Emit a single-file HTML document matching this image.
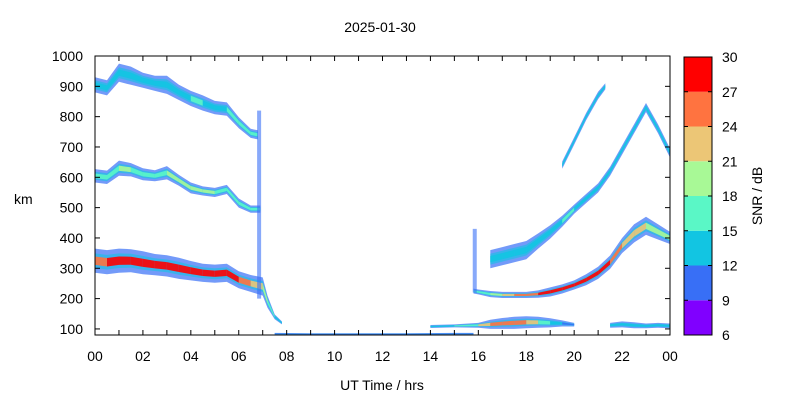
<!DOCTYPE html>
<html><head><meta charset="utf-8"><style>
body{margin:0;background:#fff}
svg{display:block;font-family:"Liberation Sans",Arial,sans-serif}
</style></head><body>
<svg id="chart" width="800" height="400" xmlns="http://www.w3.org/2000/svg">
<rect width="800" height="400" fill="#fff"/>
<text x="380" y="32" font-size="14" text-anchor="middle">2025-01-30</text>
<text x="14" y="204" font-size="14">km</text>
<text x="382" y="390" font-size="14" text-anchor="middle">UT Time / hrs</text>
<text transform="translate(762,196) rotate(-90)" font-size="14" text-anchor="middle">SNR / dB</text>
<g id="marks"></g>
<g id="axes"></g>
</svg>
<script>
// ---- data ----
const xTicks = ["00","02","04","06","08","10","12","14","16","18","20","22","00"];
const yTicks = [100,200,300,400,500,600,700,800,900,1000];
const cbTicks = [6,9,12,15,18,21,24,27,30];
const cbColors = ["#8000ff","#386ff6","#12c5e2","#5af7c6","#a8f996","#ecc676","#ff7340","#ff0000"];

const l1Hours = [0,0.5,1,1.5,2,2.5,3,3.5,4,4.5,5,5.5,6,6.5,7,7.2,7.5,7.8];
const l1Center = [325,320,325,325,318,312,308,300,292,285,282,285,262,250,240,190,140,120];
const l1Spread = [40,40,40,38,38,35,35,35,32,30,30,30,28,28,30,20,8,5];
const l1Snr = [25,26,28,28,28,27,28,28,28,27,28,28,28,25,20,17,15,12];

const l2Hours = [0,0.5,1,1.5,2,2.5,3,3.5,4,4.5,5,5.5,6,6.5,6.9];
const l2Center = [605,600,630,625,610,605,615,590,565,555,550,560,515,495,495];
const l2Spread = [22,22,25,22,20,18,22,18,18,15,15,15,15,12,12];
const l2Snr = [17,17,18,18,17,16,18,18,19,18,18,17,18,17,15];

const l3Hours = [0,0.5,1,1.5,2,2.5,3,3.5,4,4.5,5,5.5,6,6.5,6.8];
const l3Center = [905,895,945,935,920,910,905,880,860,845,830,825,780,745,740];
const l3Spread = [25,25,30,30,25,25,30,25,25,25,22,22,18,15,15];
const l3Snr = [13,13,14,14,13,13,14,14,15,15,14,14,16,17,14];

const eHours = [7.5,9,11,13,15,15.8];
const eCenter = [84,83,83,83,84,84];
const eSpread = [3,3,3,3,3,3];
const eSnr = [10,10,10,10,11,11];

const l4Hours = [15.8,16,16.5,17,17.5,18,18.5,19,19.5,20,20.5,21,21.5,22,22.5,23,23.5,24];
const l4Center = [225,222,215,212,212,212,215,222,232,245,262,285,320,375,415,440,420,400];
const l4Spread = [8,8,10,10,10,10,12,15,15,15,18,20,22,25,30,30,25,20];
const l4Snr = [15,16,18,22,24,25,27,27,28,28,28,28,27,24,22,20,20,19];

const l5Hours = [14,15,16,16.5,17,17.5,18,18.5,19,19.5,20];
const l5Center = [108,110,112,115,118,120,122,122,120,118,114];
const l5Spread = [5,5,8,15,18,20,20,18,15,10,6];
const l5Snr = [12,12,22,24,26,26,25,20,15,12,10];

const l6Hours = [21.5,22,22.5,23,23.5,24];
const l6Center = [112,115,112,110,112,110];
const l6Spread = [8,10,10,8,8,8];
const l6Snr = [13,14,13,13,14,13];

const l7Hours = [16.5,17,17.5,18,18.5,19,19.5,20,20.5,21,21.5,22,22.5,23,23.5,24];
const l7Center = [330,340,350,360,390,420,455,495,530,565,620,690,760,830,760,680];
const l7Spread = [30,30,30,30,25,22,18,15,15,15,15,15,15,15,15,15];
const l7Snr = [12,12,13,13,14,14,15,15,14,14,14,13,13,14,14,13];

const l8Hours = [19.5,20,20.5,21,21.3];
const l8Center = [640,720,800,870,900];
const l8Spread = [12,12,12,12,10];
const l8Snr = [12,13,13,14,12];

// vertical streaks: hour, bottom km, top km
const streakHours = [6.85, 15.85];
const streakBottom = [200, 220];
const streakTop = [820, 430];

// ---- axes ----
const X0=95,X1=670,Y0=335,Y1=56,HMAX=24,KMIN=80,KMAX=1000;
const xs=h=>X0+(h/HMAX)*(X1-X0);
const ys=k=>Y0-(k-KMIN)/(KMAX-KMIN)*(Y0-Y1);
const col=s=>cbColors[Math.max(0,Math.min(7,Math.floor((s-6)/3)))];
const NS="http://www.w3.org/2000/svg";
const marks=document.getElementById('marks');
const axes=document.getElementById('axes');
function mk(tag,attrs,parent){const e=document.createElementNS(NS,tag);for(const k in attrs)e.setAttribute(k,attrs[k]);parent.appendChild(e);return e;}

function band(hours,center,spread,frac,fill,name,op){
  let up=[],lo=[];
  for(let i=0;i<hours.length;i++){
    up.push(xs(hours[i]).toFixed(1)+","+ys(center[i]+spread[i]*frac).toFixed(1));
    lo.unshift(xs(hours[i]).toFixed(1)+","+ys(center[i]-spread[i]*frac).toFixed(1));
  }
  const p=mk('polygon',{points:up.concat(lo).join(" "),fill:fill,'fill-opacity':op},marks);
  
  
}
function layer(hours,center,spread,snr,name){
  band(hours,center,spread,1,cbColors[1],name+'-outer',0.7);
  band(hours,center,spread,0.6,cbColors[2],name+'-mid',0.6);
  for(let i=0;i<hours.length-1;i++){
    const s=(snr[i]+snr[i+1])/2;
    const x0=xs(hours[i]),x1=xs(hours[i+1]);
    const pts=[[x0,ys(center[i]+spread[i]*0.35)],[x1,ys(center[i+1]+spread[i+1]*0.35)],[x1,ys(center[i+1]-spread[i+1]*0.35)],[x0,ys(center[i]-spread[i]*0.35)]];
    const p=mk('polygon',{points:pts.map(q=>q[0].toFixed(1)+","+q[1].toFixed(1)).join(" "),fill:col(s),'fill-opacity':0.9},marks);
    
    
  }
}
layer(l1Hours,l1Center,l1Spread,l1Snr,'f-layer-1hop');
layer(l2Hours,l2Center,l2Spread,l2Snr,'f-layer-2hop');
layer(l3Hours,l3Center,l3Spread,l3Snr,'f-layer-3hop');
layer(eHours,eCenter,eSpread,eSnr,'e-layer');
layer(l4Hours,l4Center,l4Spread,l4Snr,'evening-f-1hop');
layer(l5Hours,l5Center,l5Spread,l5Snr,'evening-e-layer');
layer(l6Hours,l6Center,l6Spread,l6Snr,'late-e-layer');
layer(l7Hours,l7Center,l7Spread,l7Snr,'evening-f-2hop');
layer(l8Hours,l8Center,l8Spread,l8Snr,'evening-f-3hop');
streakHours.forEach((h,i)=>{
  const r=mk('rect',{x:xs(h)-2,y:ys(streakTop[i]),width:4,height:ys(streakBottom[i])-ys(streakTop[i]),fill:cbColors[1],'fill-opacity':0.6},marks);
  
  
});

// frame
const fr=mk('rect',{x:X0,y:Y1,width:X1-X0,height:Y0-Y1,fill:'none',stroke:'#000','stroke-width':1},axes);


for(let h=0;h<=24;h++){
  const x=xs(h);
  mk('line',{x1:x,y1:Y0,x2:x,y2:Y0-5,stroke:'#000'},axes);
  mk('line',{x1:x,y1:Y1,x2:x,y2:Y1+5,stroke:'#000'},axes);
}
xTicks.forEach((t,i)=>{
  const e=mk('text',{x:xs(i*2),y:361,'font-size':14,'text-anchor':'middle'},axes);e.textContent=t;
  
  
});
yTicks.forEach(k=>{
  const y=ys(k);
  mk('line',{x1:X0,y1:y,x2:X0+5,y2:y,stroke:'#000'},axes);
  mk('line',{x1:X1,y1:y,x2:X1-5,y2:y,stroke:'#000'},axes);
  const e=mk('text',{x:X0-12,y:y+5,'font-size':14,'text-anchor':'end'},axes);e.textContent=k;
  
  
});
// colorbar
const CX=684,CW=28,CT=57,CB=335;
const cy=v=>CB-(v-6)/24*(CB-CT);
cbColors.forEach((c,i)=>{
  const r=mk('rect',{x:CX,y:cy(6+3*(i+1)),width:CW,height:cy(6+3*i)-cy(6+3*(i+1)),fill:c},axes);
  
  
});
mk('rect',{x:CX,y:CT,width:CW,height:CB-CT,fill:'none',stroke:'#000'},axes);
cbTicks.forEach(v=>{
  const y=cy(v);
  mk('line',{x1:CX,y1:y,x2:CX+4,y2:y,stroke:'#000'},axes);
  mk('line',{x1:CX+CW,y1:y,x2:CX+CW-4,y2:y,stroke:'#000'},axes);
  const e=mk('text',{x:722,y:y+5,'font-size':14},axes);e.textContent=v;
  
  
});
</script>
</body></html>
